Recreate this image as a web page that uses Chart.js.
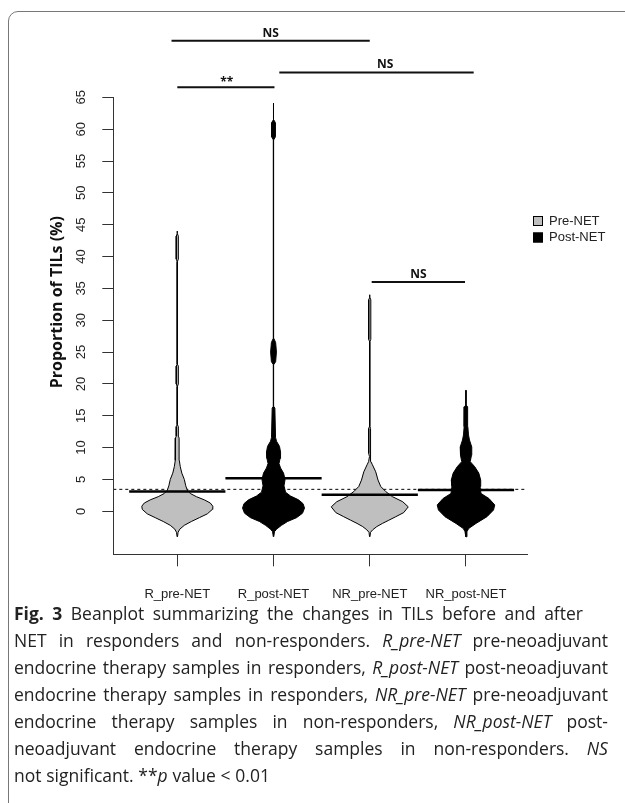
<!DOCTYPE html>
<html>
<head>
<meta charset="utf-8">
<script src="https://cdn.jsdelivr.net/npm/chart.js@4.4.0/dist/chart.umd.min.js"></script>
<style>
  html, body { margin: 0; padding: 0; background: #fff; }
  #page { position: relative; width: 625px; height: 803px; overflow: hidden; }
  #frame { position: absolute; left: 8px; top: 11px; width: 700px; height: 900px;
           border: 1px solid #777; border-radius: 10px; box-sizing: border-box; }
  #chartBox { position: absolute; left: 0; top: 0; width: 625px; height: 610px; }
  .ln { position: absolute; left: 14px; height: 27px; line-height: 27px; display: flex;
        justify-content: space-between; white-space: nowrap;
        font-family: 'Open Sans', sans-serif; color: #222; }
  .ln.last { justify-content: flex-start; gap: 0.27em; }
</style>
</head>
<body>
<div id="page">
  <div id="frame"></div>
  <div id="chartBox"><canvas id="beanChart" width="625" height="610"></canvas></div>
  <div id="caption"></div>
</div>
<script>
// groups on the x axis
const categories = ['R_pre-NET', 'R_post-NET', 'NR_pre-NET', 'NR_post-NET'];
const beanFill = ['#bfbfbf', '#000000', '#bfbfbf', '#000000'];
const yTicks = [0, 5, 10, 15, 20, 25, 30, 35, 40, 45, 50, 55, 60, 65];

// group means (thick black lines) and overall mean (dotted line)
const groupMeans = [3.1, 5.2, 2.6, 3.35];
const overallMean = 3.45;

// bean outlines: TIL levels and density half-widths (x units)
const rPreLevels = [-4.0, -3.3, -2.8, -2.2, -1.6, -1.0, -0.4, 0.3, 0.8, 1.3, 1.8, 2.3, 2.8, 3.3, 4.0, 5.0,
  6.0, 7.0, 8.0, 11.5, 11.8, 13.3, 13.6, 19.6, 20.0, 22.8, 23.1, 39.2, 39.6, 43.2, 43.6, 44.0];
const rPreWidths = [0.002, 0.008, 0.026, 0.073, 0.146, 0.229, 0.312, 0.364, 0.369, 0.343, 0.281, 0.198, 0.135,
  0.104, 0.088, 0.073, 0.047, 0.031, 0.021, 0.019, 0.011, 0.011, 0.001, 0.001, 0.011, 0.011, 0.001, 0.001,
  0.011, 0.011, 0.001, 0.001];

const rPostLevels = [-4.0, -3.2, -2.8, -2.2, -1.6, -1.0, -0.3, 0.5, 1.2, 1.8, 2.4, 3.0, 4.0, 5.0, 6.0, 6.8,
  7.5, 8.3, 9.3, 10.2, 11.0, 11.6, 16.2, 16.5, 23.0, 23.5, 25.0, 26.5, 27.2, 58.3, 58.8, 61.0, 61.5, 64.1];
const rPostWidths = [0.002, 0.010, 0.031, 0.083, 0.146, 0.239, 0.301, 0.322, 0.307, 0.260, 0.177, 0.125, 0.109,
  0.120, 0.104, 0.073, 0.057, 0.068, 0.073, 0.062, 0.031, 0.021, 0.014, 0.001, 0.001, 0.022, 0.030, 0.022,
  0.001, 0.001, 0.020, 0.020, 0.001, 0.001];

const nrPreLevels = [-4.0, -3.3, -2.9, -2.4, -1.9, -1.4, -0.85, -0.2, 0.7, 1.5, 2.3, 3.1, 3.9, 4.9, 6.2, 7.3,
  7.8, 8.6, 9.1, 13.0, 13.4, 26.6, 27.0, 33.2, 33.6, 34.0];
const nrPreWidths = [0.002, 0.008, 0.031, 0.073, 0.132, 0.198, 0.270, 0.353, 0.400, 0.343, 0.236, 0.166, 0.114,
  0.086, 0.062, 0.028, 0.012, 0.003, 0.011, 0.011, 0.001, 0.001, 0.011, 0.011, 0.001, 0.001];

const nrPostLevels = [-4.0, -3.2, -2.7, -1.9, -0.85, 0.2, 1.0, 2.0, 2.8, 3.9, 4.9, 6.0, 7.0, 7.8, 8.8, 10.1,
  11.2, 12.0, 13.3, 16.4, 16.7, 19.0];
const nrPostWidths = [0.002, 0.010, 0.028, 0.104, 0.218, 0.286, 0.299, 0.239, 0.156, 0.146, 0.153, 0.133, 0.091,
  0.044, 0.057, 0.060, 0.036, 0.026, 0.019, 0.017, 0.001, 0.001];

const beanLevels = [rPreLevels, rPostLevels, nrPreLevels, nrPostLevels];
const beanWidths = [rPreWidths, rPostWidths, nrPreWidths, nrPostWidths];

// significance brackets: labels
const sigLabels = ['NS', '**', 'NS', 'NS'];

const legendLabels = ['Pre-NET', 'Post-NET'];

// closed outline of a bean: right side going up, left side coming down
function beanOutline(center, levels, widths) {
  const right = levels.map((v, k) => ({ x: center + widths[k], y: v }));
  const left = levels.map((v, k) => ({ x: center - widths[k], y: v })).reverse();
  return right.concat(left);
}

const datasets = [];
datasets.push({
  label: 'overall mean',
  data: [{ x: 0.335, y: overallMean }, { x: 4.634, y: overallMean }],
  showLine: true, borderColor: '#000', borderWidth: 1, borderDash: [3, 3],
  pointRadius: 0, order: 3
});
categories.forEach((c, i) => {
  datasets.push({
    label: c,
    data: beanOutline(i + 1, beanLevels[i], beanWidths[i]),
    showLine: true, fill: 'shape', backgroundColor: beanFill[i],
    borderColor: '#000', borderWidth: 1, pointRadius: 0, tension: 0, order: 2
  });
});
groupMeans.forEach((m, i) => {
  datasets.push({
    label: categories[i] + ' mean',
    data: [{ x: i + 1 - 0.5, y: m }, { x: i + 1 + 0.5, y: m }],
    showLine: true, borderColor: '#000', borderWidth: 2.5, pointRadius: 0, order: 1
  });
});

// layout of the bracket bars (x from/to in axis units, y level, label nudge)
const sigLayout = [
  { x0: 0.94, x1: 3.0, y: 73.9, dx: 0 },
  { x0: 1.0, x1: 2.01, y: 66.6, dx: 0.01 },
  { x0: 2.06, x1: 4.08, y: 68.9, dx: 0.09 },
  { x0: 3.02, x1: 3.99, y: 36.0, dx: 0 }
];

const extras = {
  id: 'extras',
  afterDraw(chart) {
    const { ctx, chartArea, scales: { x, y } } = chart;
    ctx.save();
    // left axis line (from top tick down to the box bottom)
    ctx.strokeStyle = '#333';
    ctx.lineWidth = 1;
    const lx = Math.floor(chartArea.left) + 0.5;
    ctx.beginPath();
    ctx.moveTo(lx, Math.round(y.getPixelForValue(65)));
    ctx.lineTo(lx, Math.round(chartArea.bottom) + 0.5);
    ctx.stroke();

    // significance brackets
    ctx.strokeStyle = '#111';
    ctx.fillStyle = '#111';
    ctx.lineWidth = 2;
    ctx.font = "bold 12px 'Open Sans'";
    ctx.textAlign = 'center';
    ctx.textBaseline = 'alphabetic';
    sigLayout.forEach((s, k) => {
      const py = y.getPixelForValue(s.y);
      ctx.beginPath();
      ctx.moveTo(x.getPixelForValue(s.x0), py);
      ctx.lineTo(x.getPixelForValue(s.x1), py);
      ctx.stroke();
      const tx = x.getPixelForValue((s.x0 + s.x1) / 2 + s.dx);
      ctx.fillText(sigLabels[k], tx, py - (sigLabels[k] === '**' ? 1 : 4));
    });

    // legend
    const bx = chartArea.right + 6;
    const by = chartArea.top + 171;
    ctx.font = "13px 'Liberation Sans'";
    ctx.textAlign = 'left';
    ctx.textBaseline = 'middle';
    ctx.lineWidth = 1;
    legendLabels.forEach((t, k) => {
      const cy = by + k * 16.5;
      ctx.fillStyle = k === 0 ? '#bfbfbf' : '#000';
      ctx.fillRect(bx, cy - 5, 10, 10);
      ctx.strokeStyle = '#000';
      ctx.strokeRect(bx + 0.5, cy - 4.5, 9, 9);
      ctx.fillStyle = '#222';
      ctx.fillText(t, bx + 16, cy);
    });
    ctx.restore();
  }
};

new Chart(document.getElementById('beanChart'), {
  type: 'scatter',
  data: { datasets: datasets },
  options: {
    responsive: false,
    animation: false,
    events: [],
    layout: { padding: { top: 50, right: 98, left: 0, bottom: 0 } },
    plugins: { legend: { display: false }, tooltip: { enabled: false } },
    scales: {
      x: {
        type: 'linear', min: 0.335, max: 4.634,
        afterBuildTicks: (s) => { s.ticks = categories.map((c, i) => ({ value: i + 1 })); },
        afterFit: (s) => { s.height = 55.7; },
        grid: { drawOnChartArea: false, drawTicks: true, tickLength: 12, color: '#333' },
        border: { display: true, color: '#333', width: 1 },
        ticks: {
          padding: 20, color: '#222', font: { family: 'Liberation Sans', size: 13 },
          maxRotation: 0, minRotation: 0,
          callback: (v) => categories[v - 1]
        }
      },
      y: {
        type: 'linear', min: -6.75, max: 72.43,
        afterBuildTicks: (s) => { s.ticks = yTicks.map(v => ({ value: v })); },
        afterFit: (s) => { s.width = 113.3; },
        grid: { drawOnChartArea: false, drawTicks: true, tickLength: 11, color: '#333' },
        border: { display: false },
        ticks: {
          padding: 14, color: '#222', font: { family: 'Liberation Sans', size: 13 },
          minRotation: 90, maxRotation: 90, crossAlign: 'center'
        },
        title: {
          display: true, text: 'Proportion of TILs (%)', color: '#111',
          font: { family: 'Open Sans', weight: 'bold', size: 16 },
          padding: { top: 48, bottom: 0 }
        }
      }
    }
  },
  plugins: [extras]
});

// caption, one div per line, words spread over the line width
const captionLines = [
  '<b>Fig.</b> <b>3</b> Beanplot summarizing the changes in TILs before and after',
  'NET in responders and non-responders. <i>R_pre-NET</i> pre-neoadjuvant',
  'endocrine therapy samples in responders, <i>R_post-NET</i> post-neoadjuvant',
  'endocrine therapy samples in responders, <i>NR_pre-NET</i> pre-neoadjuvant',
  'endocrine therapy samples in non-responders, <i>NR_post-NET</i> post-',
  'neoadjuvant endocrine therapy samples in non-responders. <i>NS</i>',
  'not significant. **<i>p</i> value &lt; 0.01'
];
const cap = document.getElementById('caption');
captionLines.forEach((line, k) => {
  const div = document.createElement('div');
  const target = k === 0 ? 569 : 594;
  div.className = 'ln' + (k === captionLines.length - 1 ? ' last' : '');
  div.style.top = (600 + k * 27) + 'px';
  div.style.width = target + 'px';
  div.innerHTML = line.split(' ').map(w => '<span>' + w + '</span>').join('');
  cap.appendChild(div);
});
// one font size for the whole caption, the largest that keeps every line on its width
let capSize = 17.5;
const lines = Array.from(cap.children);
function fits() {
  return lines.every(d => {
    const words = Array.from(d.children);
    const natural = words.reduce((a, w) => a + w.getBoundingClientRect().width, 0) +
      (words.length - 1) * 0.22 * capSize;
    return natural <= parseFloat(d.style.width);
  });
}
lines.forEach(d => { d.style.fontSize = capSize + 'px'; });
while (!fits() && capSize > 14) {
  capSize -= 0.25;
  lines.forEach(d => { d.style.fontSize = capSize + 'px'; });
}
</script>
</body>
</html>
